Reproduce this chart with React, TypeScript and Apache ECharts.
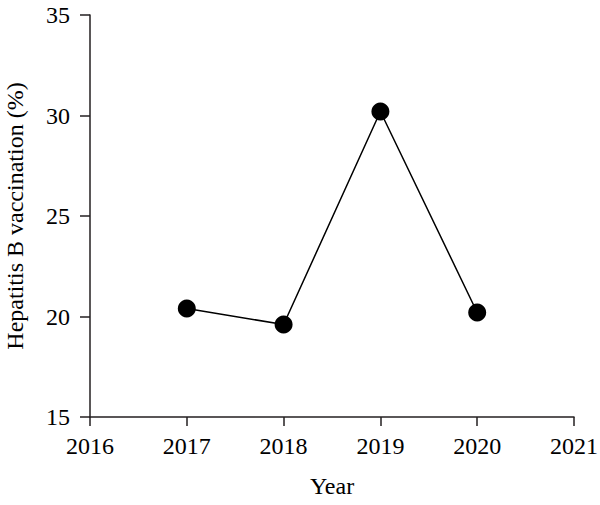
import React, { useEffect, useRef } from "react";
import * as echarts from "echarts";

const years = [2017, 2018, 2019, 2020];
const vaccination = [20.4, 19.6, 30.2, 20.2];
const xTicks = [2016, 2017, 2018, 2019, 2020, 2021];
const yTicks = [15, 20, 25, 30, 35];

const FONT = "'Liberation Serif', 'DejaVu Serif', serif";

export default function App() {
  const ref = useRef<HTMLDivElement>(null);
  useEffect(() => {
    if (!ref.current) return;
    const chart = echarts.init(ref.current, undefined, { renderer: "svg" });
    const axisColor = "#231f20";
    chart.setOption({
      animation: false,
      backgroundColor: "#ffffff",
      grid: { left: 90, right: 26, top: 15, bottom: 88, containLabel: false, outerBoundsMode: "none" },
      xAxis: {
        type: "value",
        min: xTicks[0],
        max: xTicks[xTicks.length - 1],
        interval: 1,
        name: "Year",
        nameLocation: "middle",
        nameGap: 57,
        nameTextStyle: { fontFamily: FONT, fontSize: 24, color: "#000" },
        axisLine: { show: true, lineStyle: { color: axisColor, width: 1.5 } },
        axisTick: { show: true, length: 9, inside: false, lineStyle: { color: axisColor, width: 1.5 } },
        axisLabel: { margin: 17, fontFamily: FONT, fontSize: 24, color: "#000", formatter: (v: number) => String(v) },
        splitLine: { show: false },
      },
      yAxis: {
        type: "value",
        min: yTicks[0],
        max: yTicks[yTicks.length - 1],
        interval: 5,
        name: "Hepatitis B vaccination (%)",
        nameLocation: "middle",
        nameRotate: 90,
        nameGap: 63,
        nameTextStyle: { fontFamily: FONT, fontSize: 24, color: "#000" },
        axisLine: { show: true, lineStyle: { color: axisColor, width: 1.5 } },
        axisTick: { show: true, length: 10, inside: false, lineStyle: { color: axisColor, width: 1.5 } },
        axisLabel: { margin: 20, fontFamily: FONT, fontSize: 24, color: "#000" },
        splitLine: { show: false },
      },
      series: [
        {
          type: "line",
          data: years.map((y, i) => [y, vaccination[i]]),
          symbol: "circle",
          symbolSize: 18,
          itemStyle: { color: "#000" },
          lineStyle: { color: "#000", width: 1.5 },
        },
      ],
    });
    return () => chart.dispose();
  }, []);
  return <div ref={ref} style={{ position: "absolute", left: 0, top: 0, width: 600, height: 505 }} />;
}
